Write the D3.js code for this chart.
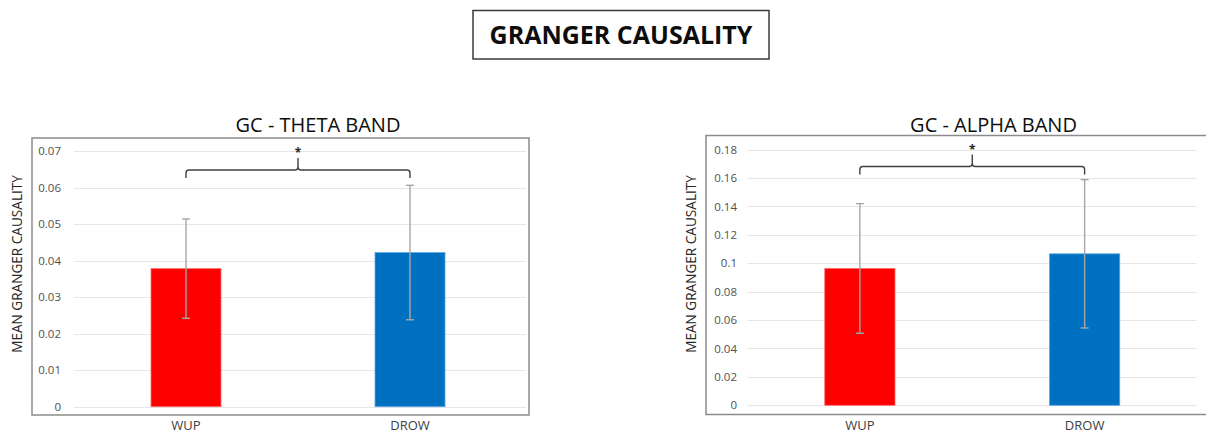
<!DOCTYPE html>
<html>
<head>
<meta charset="utf-8">
<script src="https://cdn.jsdelivr.net/npm/d3@7"></script>
<style>
  html, body { margin: 0; padding: 0; background: #fff; }
  svg { display: block; font-family: "Open Sans", sans-serif; }
</style>
</head>
<body>
<svg id="chart" width="1206" height="434"></svg>
<script>
// ---- Data ----
const categories = ["WUP", "DROW"];
const barColors = ["#FF0000", "#0070C0"];

const thetaMeans = [0.0378, 0.0422];
const thetaErrors = [0.0136, 0.0184];
const thetaTicks = [0, 0.01, 0.02, 0.03, 0.04, 0.05, 0.06, 0.07];
const thetaTickLabels = ["0", "0.01", "0.02", "0.03", "0.04", "0.05", "0.06", "0.07"];
const thetaSigLevel = 0.0648;

const alphaMeans = [0.0963, 0.1066];
const alphaErrors = [0.0456, 0.0522];
const alphaTicks = [0, 0.02, 0.04, 0.06, 0.08, 0.1, 0.12, 0.14, 0.16, 0.18];
const alphaTickLabels = ["0", "0.02", "0.04", "0.06", "0.08", "0.1", "0.12", "0.14", "0.16", "0.18"];
const alphaSigLevel = 0.168;

const mainTitle = "GRANGER CAUSALITY";
const yAxisTitle = "MEAN GRANGER CAUSALITY";

const svg = d3.select("#chart");

// ---- Main title box ----
svg.append("rect")
  .attr("x", 473).attr("y", 10.5).attr("width", 296).attr("height", 48.5)
  .attr("fill", "none").attr("stroke", "#3a3a3a").attr("stroke-width", 1.5);
svg.append("text")
  .attr("x", 621).attr("y", 44)
  .attr("text-anchor", "middle")
  .attr("font-size", 25).attr("font-weight", 700).attr("fill", "#0d0d0d")
  .text(mainTitle);

function panel(cfg) {
  const g = svg.append("g");
  const y = d3.scaleLinear().domain([0, cfg.ticks[cfg.ticks.length - 1]])
    .range([cfg.y0, cfg.yTop]);
  const x = d3.scaleBand().domain(categories)
    .range([cfg.bandL, cfg.bandR])
    .paddingInner(0.6875).paddingOuter(0.34375);

  // frame
  g.append("rect")
    .attr("x", cfg.frame[0]).attr("y", cfg.frame[1])
    .attr("width", cfg.frame[2] - cfg.frame[0]).attr("height", cfg.frame[3] - cfg.frame[1])
    .attr("fill", "none").attr("stroke", "#8c8c8c").attr("stroke-width", 1.5);

  // gridlines
  g.append("g").selectAll("line").data(cfg.ticks).join("line")
    .attr("x1", cfg.gridL).attr("x2", cfg.gridR)
    .attr("y1", d => Math.round(y(d)) + 0.5).attr("y2", d => Math.round(y(d)) + 0.5)
    .attr("stroke", "#e6e6e6").attr("stroke-width", 1.2);

  // y axis tick labels
  const ax = d3.axisLeft(y).tickValues(cfg.ticks)
    .tickFormat((d, i) => cfg.tickLabels[i]).tickSize(0).tickPadding(0);
  const axg = g.append("g").attr("transform", `translate(${cfg.labelR},0)`).call(ax);
  axg.select(".domain").remove();
  axg.selectAll("text").attr("font-size", 11.5).attr("fill", "#505050")
    .attr("font-family", "Open Sans, sans-serif");

  // bars
  g.append("g").selectAll("rect").data(cfg.means).join("rect")
    .attr("x", (d, i) => x(categories[i]))
    .attr("y", d => y(d))
    .attr("width", x.bandwidth())
    .attr("height", d => y(0) - y(d))
    .attr("fill", (d, i) => barColors[i])
    .attr("stroke", (d, i) => i === 0 ? "#ff6b6b" : "#5aa8e6")
    .attr("stroke-width", 0.8);

  // error bars
  const eg = g.append("g").attr("stroke", "#a6a6a6").attr("stroke-width", 1.4);
  cfg.means.forEach((m, i) => {
    const cx = x(categories[i]) + x.bandwidth() / 2;
    const top = y(m + cfg.errors[i]);
    const bot = y(m - cfg.errors[i]);
    eg.append("line").attr("x1", cx).attr("x2", cx).attr("y1", top).attr("y2", bot);
    eg.append("line").attr("x1", cx - 4).attr("x2", cx + 4).attr("y1", top).attr("y2", top);
    eg.append("line").attr("x1", cx - 4).attr("x2", cx + 4).attr("y1", bot).attr("y2", bot);
  });

  // significance bracket
  const x1 = x(categories[0]) + x.bandwidth() / 2;
  const x2 = x(categories[1]) + x.bandwidth() / 2;
  const by = y(cfg.sig);
  const mid = (x1 + x2) / 2;
  const r = 3;
  const path = d3.path();
  path.moveTo(x1, by + 8);
  path.lineTo(x1, by + r);
  path.quadraticCurveTo(x1, by, x1 + r, by);
  path.lineTo(mid - r, by);
  path.quadraticCurveTo(mid, by, mid, by - r);
  path.lineTo(mid, by - 12);
  path.moveTo(mid, by - r);
  path.quadraticCurveTo(mid, by, mid + r, by);
  path.lineTo(x2 - r, by);
  path.quadraticCurveTo(x2, by, x2, by + r);
  path.lineTo(x2, by + 8);
  g.append("path").attr("d", path.toString())
    .attr("fill", "none").attr("stroke", "#404040").attr("stroke-width", 1.4);
  g.append("text").attr("x", mid).attr("y", by - 12.5)
    .attr("text-anchor", "middle").attr("font-size", 12).attr("font-weight", 700)
    .attr("fill", "#262626").text("*");

  // x labels
  g.append("g").selectAll("text").data(categories).join("text")
    .attr("x", d => x(d) + x.bandwidth() / 2)
    .attr("y", 430)
    .attr("text-anchor", "middle")
    .attr("font-size", 13).attr("fill", "#404040")
    .text(d => d);

  // chart title
  g.append("text").attr("x", cfg.titleX).attr("y", 132)
    .attr("text-anchor", "middle").attr("font-size", 20).attr("fill", "#0d0d0d")
    .text(cfg.title);

  // y axis title
  g.append("text")
    .attr("transform", `translate(${cfg.yTitleX},264) rotate(-90)`)
    .attr("text-anchor", "middle").attr("font-size", 13.6).attr("fill", "#262626")
    .text(yAxisTitle);
}

panel({
  title: "GC - THETA BAND", titleX: 318,
  means: thetaMeans, errors: thetaErrors, ticks: thetaTicks, tickLabels: thetaTickLabels,
  sig: thetaSigLevel,
  y0: 406.7, yTop: 151,
  bandL: 74, bandR: 522, gridL: 74, gridR: 526, labelR: 61,
  frame: [32, 138, 529, 415], yTitleX: 21.5
});

panel({
  title: "GC - ALPHA BAND", titleX: 993.5,
  means: alphaMeans, errors: alphaErrors, ticks: alphaTicks, tickLabels: alphaTickLabels,
  sig: alphaSigLevel,
  y0: 405.3, yTop: 149.5,
  bandL: 747.5, bandR: 1197, gridL: 747.5, gridR: 1196.5, labelR: 737,
  frame: [706, 135.5, 1212, 414.5], yTitleX: 696
});
</script>
</body>
</html>
